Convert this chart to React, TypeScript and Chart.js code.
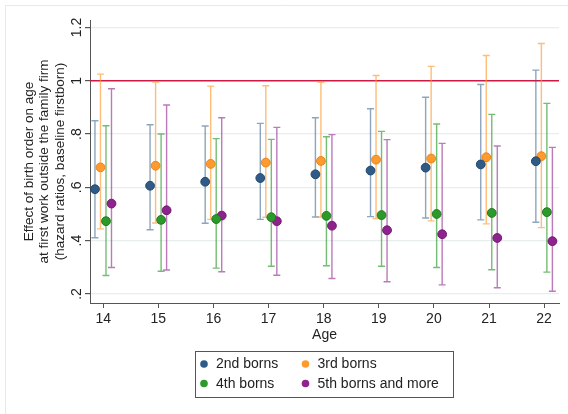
import React, { useEffect, useRef } from "react";
import { Chart, registerables } from "chart.js";
Chart.register(...registerables);

const ages = [14, 15, 16, 17, 18, 19, 20, 21, 22];
const yTickValues = [0.2, 0.4, 0.6, 0.8, 1, 1.2];
const yTickLabels = [".2", ".4", ".6", ".8", "1", "1.2"];
const referenceValue = 1;

const seriesLabels = ["2nd borns", "3rd borns", "4th borns", "5th borns and more"];

const est2 = [0.593, 0.606, 0.621, 0.635, 0.649, 0.663, 0.674, 0.686, 0.698];
const lo2 = [0.411, 0.441, 0.465, 0.48, 0.489, 0.49, 0.485, 0.478, 0.469];
const hi2 = [0.85, 0.835, 0.83, 0.84, 0.861, 0.895, 0.938, 0.986, 1.04];

const est3 = [0.675, 0.681, 0.688, 0.693, 0.699, 0.704, 0.708, 0.713, 0.717];
const lo3 = [0.444, 0.466, 0.48, 0.488, 0.489, 0.483, 0.474, 0.463, 0.449];
const hi3 = [1.025, 0.995, 0.98, 0.981, 0.994, 1.02, 1.054, 1.095, 1.14];

const est4 = [0.473, 0.478, 0.481, 0.488, 0.493, 0.496, 0.5, 0.504, 0.507];
const lo4 = [0.269, 0.285, 0.297, 0.304, 0.306, 0.304, 0.299, 0.291, 0.282];
const hi4 = [0.831, 0.8, 0.783, 0.78, 0.79, 0.81, 0.838, 0.874, 0.915];

const est5 = [0.539, 0.514, 0.494, 0.473, 0.456, 0.439, 0.424, 0.41, 0.398];
const lo5 = [0.299, 0.29, 0.283, 0.27, 0.258, 0.246, 0.234, 0.223, 0.21];
const hi5 = [0.97, 0.909, 0.861, 0.825, 0.798, 0.779, 0.765, 0.755, 0.75];

const yTitle = [
  "Effect of birth order on age",
  "at first work outside the family firm",
  "(hazard ratios, baseline firstborn)",
];

const FONT = "'Liberation Sans', Arial, sans-serif";

const styles = [
  { fill: "#2f5b88", edge: "#24476b", bar: "rgba(47,91,136,0.55)", shift: -0.15 },
  { fill: "#ff9a2e", edge: "#e8821a", bar: "rgba(255,154,46,0.65)", shift: -0.05 },
  { fill: "#2b9a2b", edge: "#1f7a1f", bar: "rgba(43,154,43,0.65)", shift: 0.05 },
  { fill: "#8e238e", edge: "#701a70", bar: "rgba(142,35,142,0.6)", shift: 0.15 },
];

const groups = [
  { est: est2, lo: lo2, hi: hi2 },
  { est: est3, lo: lo3, hi: hi3 },
  { est: est4, lo: lo4, hi: hi4 },
  { est: est5, lo: lo5, hi: hi5 },
];

const decorPlugin = {
  id: "decor",
  beforeDatasetsDraw(chart: any) {
    const { ctx, chartArea, scales } = chart;
    const x = scales.x;
    const y = scales.y;
    // reference line
    const ry = y.getPixelForValue(referenceValue);
    ctx.save();
    ctx.strokeStyle = "#cc1a44";
    ctx.lineWidth = 1.5;
    ctx.beginPath();
    ctx.moveTo(chartArea.left, ry);
    ctx.lineTo(chartArea.right, ry);
    ctx.stroke();
    // error bars
    groups.forEach((g, gi) => {
      const st = styles[gi];
      ctx.strokeStyle = st.bar;
      ctx.lineWidth = 1.4;
      ages.forEach((a, i) => {
        const px = x.getPixelForValue(a + st.shift);
        const pl = y.getPixelForValue(g.lo[i]);
        const ph = y.getPixelForValue(g.hi[i]);
        ctx.beginPath();
        ctx.moveTo(px, pl);
        ctx.lineTo(px, ph);
        ctx.moveTo(px - 3.5, pl);
        ctx.lineTo(px + 3.5, pl);
        ctx.moveTo(px - 3.5, ph);
        ctx.lineTo(px + 3.5, ph);
        ctx.stroke();
      });
    });
    ctx.restore();
  },
  afterDraw(chart: any) {
    const { ctx, chartArea, scales } = chart;
    const y = scales.y;
    ctx.save();
    // faint outer frame
    ctx.strokeStyle = "#e2ebeb";
    ctx.lineWidth = 1;
    ctx.beginPath();
    ctx.moveTo(5.5, 420);
    ctx.lineTo(5.5, 5.5);
    ctx.lineTo(570, 5.5);
    ctx.stroke();
    // y tick labels, rotated
    ctx.fillStyle = "#222";
    ctx.font = `14px ${FONT}`;
    ctx.textAlign = "center";
    ctx.textBaseline = "middle";
    yTickValues.forEach((v, i) => {
      const py = y.getPixelForValue(v);
      ctx.save();
      ctx.translate(77, py);
      ctx.rotate(-Math.PI / 2);
      ctx.fillText(yTickLabels[i], 0, 0);
      ctx.restore();
    });
    // y title
    ctx.font = `13.5px ${FONT}`;
    const cy = (chartArea.top + chartArea.bottom) / 2;
    const xs = [29, 44.5, 60];
    yTitle.forEach((line, i) => {
      ctx.save();
      ctx.translate(xs[i], cy);
      ctx.rotate(-Math.PI / 2);
      ctx.fillText(line, 0, 0);
      ctx.restore();
    });
    // legend
    ctx.strokeStyle = "#555";
    ctx.lineWidth = 1;
    ctx.strokeRect(195.5, 351.5, 258, 46);
    const cols = [204, 305.5];
    const rows = [364, 383.5];
    ctx.font = `14px ${FONT}`;
    ctx.textAlign = "left";
    chart.data.datasets.forEach((ds: any, i: number) => {
      const mx = cols[i % 2];
      const my = rows[Math.floor(i / 2)];
      ctx.beginPath();
      ctx.arc(mx, my, 3.8, 0, Math.PI * 2);
      ctx.fillStyle = ds.backgroundColor;
      ctx.fill();
      ctx.fillStyle = "#222";
      ctx.fillText(ds.label, mx + 12, my + 0.5);
    });
    ctx.restore();
  },
};

export default function App() {
  const ref = useRef<HTMLCanvasElement | null>(null);
  useEffect(() => {
    document.body.style.margin = "0";
    const canvas = ref.current;
    if (!canvas) return;
    const chart = new Chart(canvas, {
      type: "scatter",
      data: {
        datasets: groups.map((g, gi) => ({
          label: seriesLabels[gi],
          data: ages.map((a, i) => ({ x: a + styles[gi].shift, y: g.est[i] })),
          backgroundColor: styles[gi].fill,
          borderColor: styles[gi].edge,
          borderWidth: 1,
          pointRadius: 4.4,
        })),
      },
      options: {
        responsive: false,
        animation: false,
        devicePixelRatio: 1,
        layout: { padding: { top: 20, right: 9, bottom: 66, left: 0 } },
        plugins: { legend: { display: false }, tooltip: { enabled: false } },
        scales: {
          x: {
            type: "linear",
            min: 13.76,
            max: 22.27,
            afterBuildTicks: (s: any) => {
              s.ticks = ages.map((v) => ({ value: v }));
            },
            afterFit: (s: any) => {
              s.height = 45;
            },
            ticks: {
              autoSkip: false,
              maxRotation: 0,
              minRotation: 0,
              color: "#222",
              font: { family: FONT, size: 14 },
              padding: 3,
              callback: (v: any) => String(v),
            },
            grid: {
              drawOnChartArea: false,
              drawTicks: true,
              tickLength: 5,
              tickColor: "#555",
            },
            border: { color: "#555", width: 1 },
            title: {
              display: true,
              text: "Age",
              color: "#222",
              font: { family: FONT, size: 14 },
              padding: { top: 0, bottom: 4 },
            },
          },
          y: {
            type: "linear",
            min: 0.166,
            max: 1.228,
            afterBuildTicks: (s: any) => {
              s.ticks = yTickValues.map((v) => ({ value: v }));
            },
            afterFit: (s: any) => {
              s.width = 90;
            },
            ticks: { display: false },
            grid: {
              color: "#e6eeee",
              lineWidth: 1.2,
              drawTicks: true,
              tickLength: 5,
              tickColor: "#555",
            },
            border: { color: "#555", width: 1 },
          },
        },
      },
      plugins: [decorPlugin],
    });
    return () => chart.destroy();
  }, []);
  return (
    <canvas
      ref={ref}
      width={568}
      height={414}
      style={{ display: "block", width: 568, height: 414 }}
    />
  );
}
